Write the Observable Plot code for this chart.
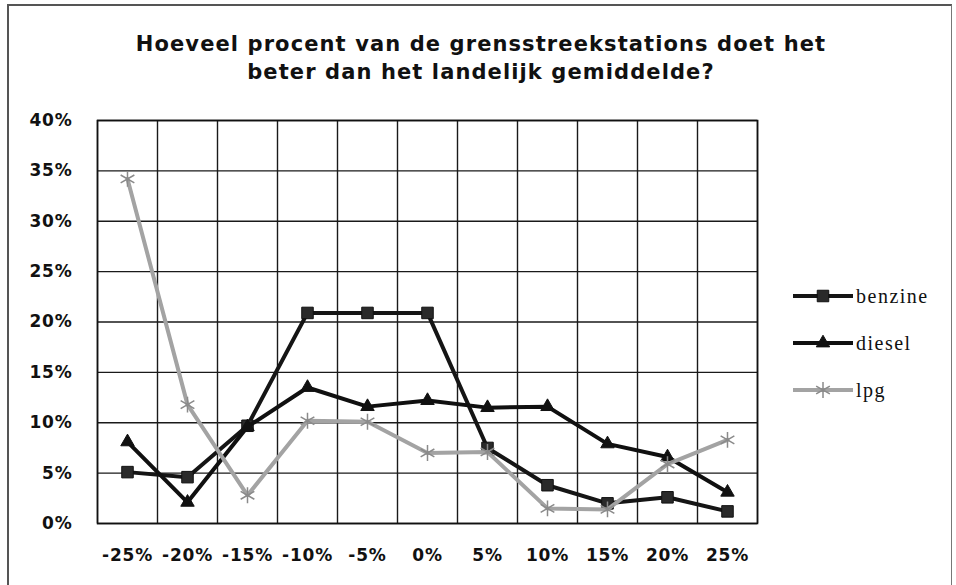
<!DOCTYPE html>
<html>
<head>
<meta charset="utf-8">
<script src="https://cdn.jsdelivr.net/npm/d3@7"></script>
<script src="https://cdn.jsdelivr.net/npm/@observablehq/plot@0.6"></script>
<style>
  html, body { margin: 0; padding: 0; background: #fff; }
  #wrap { position: relative; width: 956px; height: 585px; overflow: hidden; background: #fff; }
  #frame { position: absolute; left: 7px; top: 4px; width: 942px; height: 600px;
           border-left: 2px solid #555; border-top: 2px solid #555; border-right: 1px solid #777; }
  #title { position: absolute; left: 0; top: 30px; width: 962px; text-align: center;
           font-family: "DejaVu Sans", sans-serif; font-weight: bold; font-size: 21px;
           line-height: 28px; color: #111; letter-spacing: 1.1px; }
  #chart { position: absolute; left: 0; top: 0; }
  #legend { position: absolute; left: 790px; top: 0; font-family: "Liberation Serif", serif;
            font-size: 20px; color: #111; letter-spacing: 1.5px; }
  .item { position: absolute; left: 0; width: 170px; height: 24px; }
  .item svg { position: absolute; left: 0; top: 0; }
  .item span { position: absolute; left: 66px; top: 0px; line-height: 24px; }
</style>
</head>
<body>
<div id="wrap">
  <div id="frame"></div>
  <div id="chart"></div>
  <div id="title">Hoeveel procent van de grensstreekstations doet het<br>beter dan het landelijk gemiddelde?</div>
  <div id="legend"></div>
</div>
<script>
const categories = ["-25%", "-20%", "-15%", "-10%", "-5%", "0%", "5%", "10%", "15%", "20%", "25%"];
const yTicks = [0, 5, 10, 15, 20, 25, 30, 35, 40];
const seriesNames = ["benzine", "diesel", "lpg"];
const benzine = [5.1, 4.6, 9.7, 20.9, 20.9, 20.9, 7.5, 3.8, 2.0, 2.6, 1.2];
const diesel  = [8.1, 2.1, 9.6, 13.5, 11.6, 12.2, 11.5, 11.6, 7.9, 6.6, 3.1];
const lpg     = [34.2, 11.8, 2.8, 10.2, 10.1, 7.0, 7.1, 1.5, 1.4, 5.9, 8.3];

const seriesValues = {benzine, diesel, lpg};
const styles = {
  benzine: {stroke: "#151515", symbol: "square", fill: "#2a2a2a", mstroke: "#111", r: 6.5},
  diesel:  {stroke: "#101010", symbol: "triangle", fill: "#111", mstroke: "#111", r: 5},
  lpg:     {stroke: "#a3a3a3", symbol: "asterisk", fill: "none", mstroke: "#8a8a8a", r: 7.5}
};

const rows = seriesNames.flatMap(s => seriesValues[s].map((v, i) => ({series: s, i, v})));
const idx = categories.map((_, i) => i);
const edges = d3.range(-0.5, categories.length, 1);

const marks = [
  Plot.ruleY(yTicks, {stroke: "#1a1a1a", strokeWidth: 1.4}),
  Plot.ruleX(edges, {stroke: "#1a1a1a", strokeWidth: 1.4}),
  Plot.frame({stroke: "#111", strokeWidth: 1.6})
];
for (const s of seriesNames) {
  const st = styles[s];
  const data = rows.filter(d => d.series === s);
  marks.push(Plot.line(data, {x: "i", y: "v", stroke: st.stroke, strokeWidth: 4, strokeLinejoin: "miter"}));
  marks.push(Plot.dot(data, {x: "i", y: "v", symbol: () => st.symbol, r: st.r,
    fill: st.fill, stroke: st.mstroke, strokeWidth: s === "lpg" ? 1.5 : 1}));
}

const chart = Plot.plot({
  width: 956, height: 585,
  marginLeft: 97, marginRight: 199, marginTop: 120, marginBottom: 62,
  style: {fontFamily: "DejaVu Sans, sans-serif", fontSize: "17px", fontWeight: "bold",
          color: "#111", background: "transparent", letterSpacing: "0.8px"},
  x: {domain: [-0.5, categories.length - 0.5], ticks: idx, tickFormat: i => categories[i],
      tickSize: 0, tickPadding: 25, label: null},
  y: {domain: [0, 40], ticks: yTicks, tickFormat: d => d + "%", tickSize: 0, tickPadding: 25, label: null},
  symbol: {type: "identity"},
  marks
});
document.getElementById("chart").appendChild(chart);

// legend
const legend = document.getElementById("legend");
const legendY = [284, 331, 378];
seriesNames.forEach((s, k) => {
  const st = styles[s];
  const item = document.createElement("div");
  item.className = "item";
  item.style.top = legendY[k] + "px";
  const svg = d3.create("svg").attr("width", 66).attr("height", 24);
  svg.append("line").attr("x1", 3).attr("x2", 63).attr("y1", 12).attr("y2", 12)
    .attr("stroke", st.stroke).attr("stroke-width", 4);
  const symMap = {square: d3.symbolSquare, triangle: d3.symbolTriangle, asterisk: d3.symbolAsterisk};
  const area = Math.PI * st.r * st.r;
  svg.append("path").attr("d", d3.symbol(symMap[st.symbol], area)())
    .attr("transform", "translate(33,12)")
    .attr("fill", st.fill).attr("stroke", st.mstroke).attr("stroke-width", s === "lpg" ? 1.5 : 1);
  item.appendChild(svg.node());
  const span = document.createElement("span");
  span.textContent = s;
  item.appendChild(span);
  legend.appendChild(item);
});
</script>
</body>
</html>
